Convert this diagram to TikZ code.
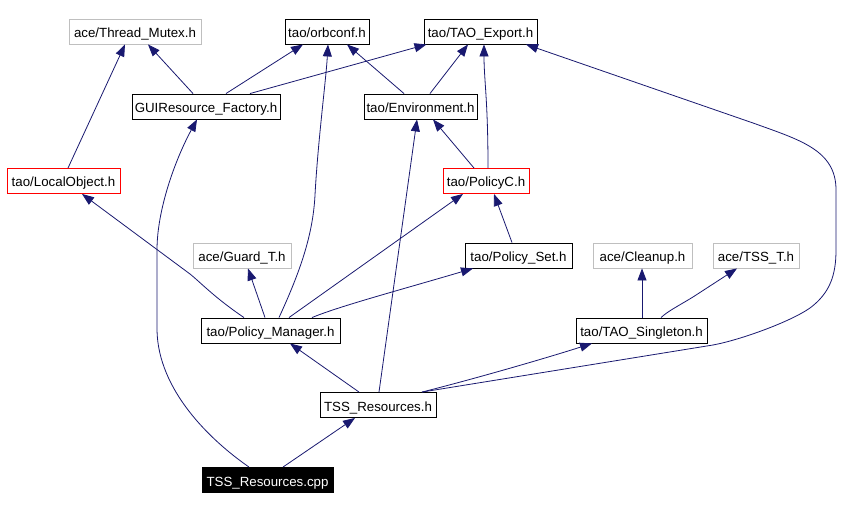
\documentclass[tikz,border=0pt]{standalone}
\usepackage{fontspec}
\setmainfont{Liberation Sans}
\usetikzlibrary{arrows.meta}
\definecolor{edgeblue}{RGB}{25,25,112}
\definecolor{lgray}{RGB}{191,191,191}
\begin{document}
\begin{tikzpicture}[x=1pt,y=-1pt,
 box/.style={draw=black, line width=0.9pt, minimum height=25pt, inner sep=0pt, text height=12pt, text depth=0pt, font=\fontsize{13.3}{16}\selectfont},
 gbox/.style={box, draw=lgray},
 rbox/.style={box, draw=red},
 rootbox/.style={box, fill=black, text=white},
 edge/.style={draw=edgeblue, line width=0.8pt, -{Triangle[length=12pt,width=9pt]}}]
\useasboundingbox[fill=white] (0,0) rectangle (856,510);
% nodes
\node[gbox, minimum width=132pt] (tm) at (135,31.5) {ace/Thread\_Mutex.h};
\node[box, minimum width=84pt] (orb) at (327,31.5) {tao/orbconf.h};
\node[box, minimum width=113pt] (exp) at (480.5,31.5) {tao/TAO\_Export.h};
\node[box, minimum width=148pt] (gui) at (206,106.5) {GUIResource\_Factory.h};
\node[box, minimum width=113pt] (env) at (420.5,106.5) {tao/Environment.h};
\node[rbox, minimum width=113pt] (lo) at (63.5,181) {tao/LocalObject.h};
\node[rbox, minimum width=86pt] (pc) at (486,181) {tao/PolicyC.h};
\node[gbox, minimum width=98pt] (gt) at (242,255.5) {ace/Guard\_T.h};
\node[box, minimum width=107pt] (ps) at (518.5,255.5) {tao/Policy\_Set.h};
\node[gbox, minimum width=99pt] (cl) at (642.5,255.5) {ace/Cleanup.h};
\node[gbox, minimum width=86pt] (tss) at (756,255.5) {ace/TSS\_T.h};
\node[box, minimum width=139pt] (pm) at (270.5,330.5) {tao/Policy\_Manager.h};
\node[box, minimum width=131pt] (sing) at (641.5,330.5) {tao/TAO\_Singleton.h};
\node[box, minimum width=116pt] (tr) at (378,405) {TSS\_Resources.h};
\node[rootbox, minimum width=131pt] (cpp) at (267.5,480) {TSS\_Resources.cpp};
% edges
\draw[edge] ([xshift=4.5pt]lo.north) -- ([xshift=-10pt]tm.south);
\draw[edge] ([xshift=-13pt]gui.north) -- ([xshift=13pt]tm.south);
\draw[edge] ([xshift=20pt]gui.north) -- ([xshift=-24pt]orb.south);
\draw[edge] ([xshift=44pt]gui.north) -- ([xshift=-54pt]exp.south);
\draw[edge] ([xshift=8.5pt]pm.north) .. controls (300,272) and (313,235) .. (315,195) .. controls (318,140) and (326,80) .. ([xshift=1pt]orb.south);
\draw[edge] ([xshift=-16.5pt]env.north) -- ([xshift=20pt]orb.south);
\draw[edge] ([xshift=9.5pt]env.north) -- ([xshift=-12.5pt]exp.south);
\draw[edge] ([xshift=2pt]pc.north) .. controls (488,100) and (484,80) .. ([xshift=3.5pt]exp.south);
\draw[edge] ([xshift=-12pt]pc.north) -- ([xshift=12.5pt]env.south);
\draw[edge] ([xshift=44pt]tr.north) -- (713,345) .. controls (740,340) and (790,322) .. (810,308) .. controls (830,293) and (836,275) .. (836,250) -- (836,190) .. controls (836,150) and (800,140) .. (753,123) -- ([xshift=45.5pt]exp.south);
\draw[edge] ([xshift=-26.5pt]pm.north) .. controls (215,298) and (200,282) .. (190,274) -- ([xshift=18.5pt]lo.south);
\draw[edge] ([xshift=-5.5pt]pm.north) -- ([xshift=6pt]gt.south);
\draw[edge] ([xshift=18.5pt]pm.north) -- ([xshift=-23pt]pc.south);
\draw[edge] ([xshift=41.5pt]pm.north) .. controls (340,306) and (400,290) .. ([xshift=-45.5pt]ps.south);
\draw[edge] ([xshift=-6.5pt]ps.north) -- ([xshift=8pt]pc.south);
\draw[edge] ([xshift=-19pt]tr.north) -- ([xshift=19.5pt]pm.south);
\draw[edge] ([xshift=1pt]tr.north) -- ([xshift=-3.5pt]env.south);
\draw[edge] ([xshift=44pt]tr.north) .. controls (470,380) and (540,360) .. ([xshift=-49.5pt]sing.south);
\draw[edge] ([xshift=0.5pt]sing.north) -- ([xshift=-0.5pt]cl.south);
\draw[edge] ([xshift=19.5pt]sing.north) .. controls (668,311) and (680,305) .. (693,297) -- ([xshift=-19pt]tss.south);
\draw[edge] ([xshift=15.5pt]cpp.north) -- ([xshift=-23pt]tr.south);
\draw[edge] ([xshift=-18.5pt]cpp.north) .. controls (210,440) and (158,390) .. (157,330) -- (157,250) .. controls (157,210) and (175,160) .. ([xshift=-9pt]gui.south);
\end{tikzpicture}
\end{document}
